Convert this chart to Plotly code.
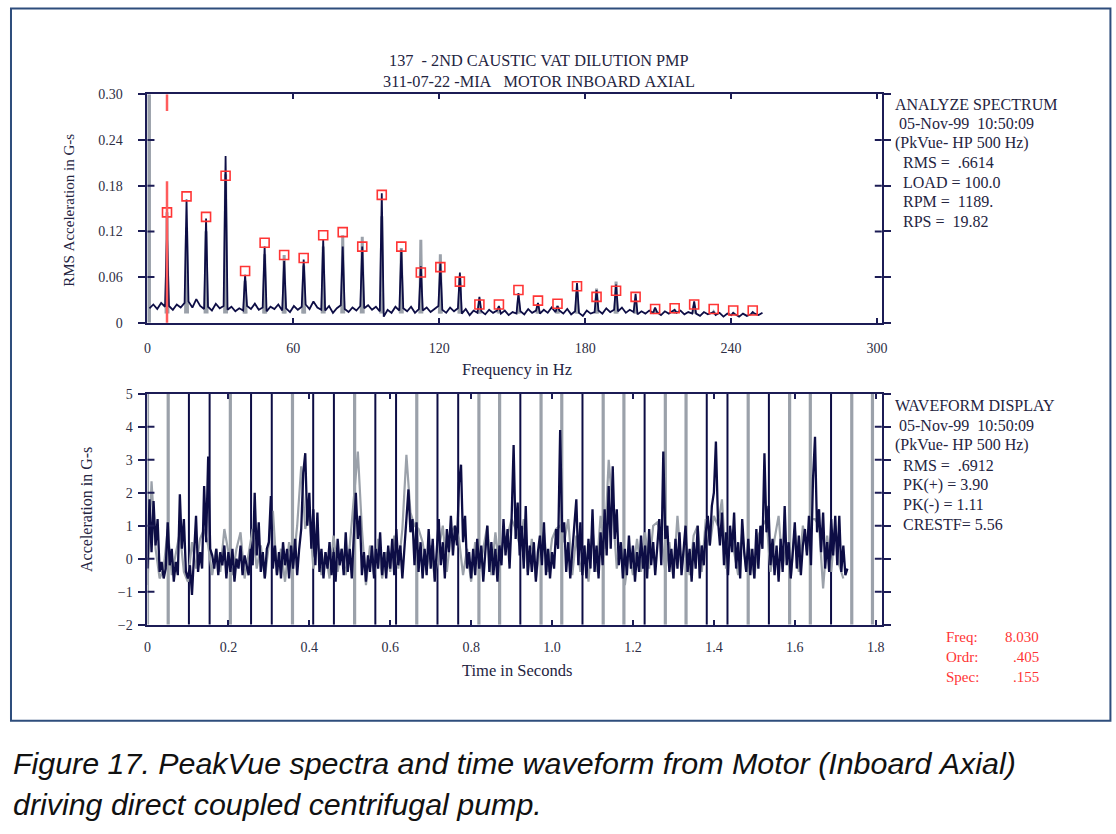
import plotly.graph_objects as go

# --- data -------------------------------------------------------------
HARM_FREQ = 8.03          # Hz, cursor frequency (Freq readout)
TACH_PERIOD = 0.0512      # s, spacing of the once-per-rev marks

# spectrum: navy (current) peak at each harmonic 1..31
NAVY_PEAKS = [0.115, 0.162, 0.137, 0.219, 0.063, 0.100, 0.081, 0.083, 0.109, 0.100,
              0.100, 0.170, 0.096, 0.074, 0.078, 0.066, 0.034, 0.022, 0.039, 0.026,
              0.022, 0.052, 0.043, 0.050, 0.038, 0.020, 0.017, 0.028, 0.014, 0.013,
              0.014]
# noise floor between harmonics (gap 0 = below 1x)
NAVY_FLOOR = [
    [0.019, 0.024, 0.018, 0.026, 0.021], [0.022, 0.017, 0.024, 0.020, 0.026],
    [0.028, 0.020, 0.031, 0.022, 0.018], [0.021, 0.016, 0.025, 0.019, 0.022],
    [0.017, 0.021, 0.015, 0.019, 0.016], [0.022, 0.018, 0.025, 0.017, 0.020],
    [0.015, 0.021, 0.018, 0.024, 0.016], [0.019, 0.014, 0.022, 0.017, 0.021],
    [0.024, 0.018, 0.028, 0.020, 0.017], [0.016, 0.022, 0.013, 0.019, 0.023],
    [0.018, 0.014, 0.020, 0.016, 0.022], [0.019, 0.023, 0.017, 0.021, 0.015],
    [0.008, 0.017, 0.013, 0.021, 0.016], [0.019, 0.015, 0.021, 0.013, 0.018],
    [0.016, 0.020, 0.014, 0.018, 0.022], [0.017, 0.013, 0.020, 0.015, 0.019],
    [0.012, 0.018, 0.010, 0.016, 0.013], [0.015, 0.011, 0.017, 0.013, 0.016],
    [0.012, 0.016, 0.010, 0.014, 0.012], [0.015, 0.011, 0.018, 0.013, 0.016],
    [0.012, 0.017, 0.013, 0.020, 0.014], [0.016, 0.012, 0.018, 0.011, 0.015],
    [0.013, 0.009, 0.016, 0.012, 0.014], [0.016, 0.012, 0.019, 0.014, 0.017],
    [0.015, 0.020, 0.013, 0.017, 0.014], [0.011, 0.015, 0.012, 0.016, 0.013],
    [0.014, 0.010, 0.015, 0.012, 0.016], [0.013, 0.016, 0.011, 0.014, 0.012],
    [0.012, 0.009, 0.014, 0.011, 0.013], [0.010, 0.013, 0.008, 0.012, 0.010],
    [0.011, 0.008, 0.012, 0.009, 0.011], [0.012, 0.010, 0.013],
]
# gray (reference) spectrum peaks
GRAY_PEAKS = [0.145, 0.125, 0.120, 0.195, 0.055, 0.090, 0.089, 0.075, 0.100, 0.115,
              0.113, 0.140, 0.098, 0.109, 0.090, 0.060, 0.025, 0.020, 0.030, 0.024,
              0.022, 0.040, 0.045, 0.054, 0.030, 0.018, 0.016, 0.022, 0.014, 0.012,
              0.012]
GRAY_BASE = 0.012
GRAY_DC = 0.30
# red peak markers
MARKER_AMP = [0.145, 0.166, 0.139, 0.193, 0.068, 0.105, 0.089, 0.085, 0.115, 0.119,
              0.100, 0.168, 0.100, 0.066, 0.073, 0.054, 0.024, 0.024, 0.043, 0.029,
              0.025, 0.048, 0.034, 0.042, 0.034, 0.018, 0.019, 0.024, 0.018, 0.016,
              0.016]

# waveform, navy trace, 0.005 s per sample
WAVE_DT = 0.005
WAVE_NAVY = [
    -0.3, 1.8, 0.2, 1.75, 0.4, 1.2, -0.4, -0.1, -0.6, -0.3,
    1.1, -0.2, 0.3, -0.7, -0.1, -0.5, 1.95, 0.3, 1.2, -0.4,
    -0.6, -0.2, -1.1, 0.1, 1.3, -0.4, 0.2, -0.3, 2.2, 0.5,
    3.1, 0.3, 0.1, -0.3, 0.3, -0.5, 0.2, -0.2, 0.4, -0.6,
    0.2, -0.4, 0.3, -0.7, 0.0, -0.3, 0.4, -0.5, 0.1, -0.2,
    -0.5, 0.3, -0.2, 2.0, 0.1, 1.1, -0.4, 0.2, -0.6, 0.3,
    0.5, 1.9, -0.3, 0.4, -0.5, 0.2, -0.6, 0.5, -0.2, 0.3,
    -0.6, 0.4, -0.3, 0.6, -0.5, 0.3, 0.9, 2.6, 3.2, 1.0,
    2.0, 0.3, 1.5, -0.2, 1.4, -0.4, 0.3, -0.6, 0.2, -0.3,
    0.5, -0.5, 0.2, -0.7, 0.6, -0.2, 0.3, -0.5, 0.8, -0.4,
    0.3, -0.6, 0.5, 2.0, 0.6, 1.3, -0.5, 0.2, -0.7, 0.1,
    -0.4, 0.4, -0.6, 0.3, -0.3, 0.8, -0.5, 0.2, -0.6, 0.4,
    -0.3, 0.6, -0.5, 0.9, -0.2, 0.4, -0.6, 0.3, 1.0, 2.1,
    0.8, 1.2, -0.2, 1.1, -0.4, 0.5, -0.6, 0.3, -0.5, 0.9,
    -0.3, 0.6, -0.7, 0.4, 1.2, -0.2, 0.5, -0.6, 0.9, 0.2,
    1.3, 0.1, 1.0, 0.4, 2.3, 2.85, 0.5, 1.3, -0.3, 0.2,
    -0.6, 0.3, -0.5, 0.6, -0.3, 0.4, -0.7, 0.2, 1.0, -0.4,
    0.5, -0.5, 0.3, -0.7, 0.4, -0.2, 1.2, 0.1, 0.9, -0.3,
    1.2, 3.45, 0.6, 1.7, 0.1, 1.0, -0.3, 1.6, -0.5, 0.4,
    -0.4, 0.5, -0.7, 0.2, 0.7, -0.2, 1.1, -0.5, 0.3, -0.6,
    0.2, -0.3, 0.9, 0.3, 3.9, 0.8, 1.1, -0.4, 0.5, -0.6,
    0.3, 0.9, 1.8, -0.2, 1.1, -0.5, 0.4, -0.6, 0.6, -0.3,
    1.5, -0.4, 0.4, -0.6, 0.8, -0.2, 1.5, 0.1, 2.2, 0.3,
    2.8, 0.6, 1.5, -0.2, 0.5, -0.6, 0.3, -0.5, 0.7, -0.3,
    0.4, -0.7, 0.2, -0.4, 0.7, -0.3, 0.4, -0.6, 0.9, -0.2,
    0.5, -0.5, 0.3, 1.2, -0.2, 3.25, 0.6, 1.0, -0.4, 0.3,
    -0.6, 0.6, -0.3, 0.8, -0.5, 0.4, 1.0, -0.4, 0.3, -0.7,
    0.5, -0.3, 1.0, -0.6, 0.4, -0.2, 0.8, 1.3, 0.4, 1.6,
    2.0, 3.55, 1.2, 0.4, 1.4, -0.2, 0.8, -0.5, 1.0, 0.2,
    1.4, -0.3, 0.5, -0.6, 1.2, 0.2, -0.4, 0.6, -0.5, 0.3,
    -0.6, 0.9, -0.3, 1.0, 0.3, 3.2, 0.8, 1.6, -0.2, 0.6,
    -0.5, 0.4, -0.7, 0.6, -0.4, 1.6, -0.2, 0.5, -0.6, 0.2,
    1.1, -0.3, 0.7, -0.5, 0.4, 0.9, 0.1, 1.3, -0.2, 2.4,
    3.7, 0.8, 1.5, 0.2, 1.4, -0.3, 0.5, -0.4, 1.2, 0.1,
    1.3, -0.2, 1.3, -0.4, 0.4, -0.5, -0.3,
]
# waveform, gray trace, 0.01 s per sample
GRAY_DT = 0.01
WAVE_GRAY = [
    -0.8, 2.35, 0.3, -0.6, -0.3, 0.9, -0.5, 0.2, 0.8, -0.4,
    -0.7, 0.5, -0.3, 0.6, 0.9, 0.4, -0.5, 0.3, -0.4, 0.9,
    0.2, -0.5, 0.3, 0.8, -0.6, 0.2, 0.9, -0.3, 0.4, -0.6,
    0.5, 1.45, -0.5, 0.3, -0.7, 0.5, -0.2, 1.0, 2.8, 0.9,
    1.4, -0.3, 0.6, -0.5, 0.2, -0.6, 0.7, -0.4, 0.3, -0.5,
    0.4, 1.8, 3.25, 0.9, -0.8, 0.4, -0.5, 0.6, -0.6, 0.2,
    -0.4, 0.7, -0.3, 0.9, 3.15, 1.4, 1.0, 0.9, 0.5, -0.3,
    0.4, -0.6, 0.3, 1.0, -0.4, 0.8, 1.0, 0.6, -0.5, 0.3,
    -0.7, 0.5, -0.4, 0.3, 1.0, -0.5, 0.8, -0.3, 0.6, 0.7,
    1.2, 0.9, 0.4, 1.2, -0.4, 0.6, -0.6, 0.3, 0.8, -0.4,
    0.6, 0.9, 1.0, 0.5, 1.2, -0.5, 0.7, -0.4, 0.4, -0.7,
    0.9, -0.4, 1.3, 0.3, 3.0, 1.5, -0.3, 0.5, -0.8, 0.2,
    -0.5, 0.6, -0.4, 0.8, -0.3, 1.0, 1.1, 0.7, -0.4, 0.5,
    -0.6, 1.3, -0.3, 0.6, -0.5, 0.7, 1.0, -0.4, 1.2, 0.4,
    1.3, 1.0, 1.8, -0.3, 0.9, 0.2, -0.5, 0.8, -0.4, 0.3,
    -0.6, 0.7, 1.0, 1.2, -0.4, 0.6, 1.3, -0.3, 0.5, -0.6,
    0.9, -0.4, 1.0, 0.2, 1.2, 1.2, 1.0, -0.9, 0.7, -0.4,
    1.0, -0.2, -0.6,
]
# colour of each once-per-rev mark (g = gray trace, n = navy trace)
TACH_COLORS = "ggnngnngnngnngnnggnggnggnggnngnggngg"

FREQ_TICKS = [0, 60, 120, 180, 240, 300]
AMP_TICKS = [0, 0.06, 0.12, 0.18, 0.24, 0.30]
AMP_LABELS = ["0", "0.06", "0.12", "0.18", "0.24", "0.30"]
TIME_TICKS = [0, 0.2, 0.4, 0.6, 0.8, 1.0, 1.2, 1.4, 1.6, 1.8]
TIME_LABELS = ["0", "0.2", "0.4", "0.6", "0.8", "1.0", "1.2", "1.4", "1.6", "1.8"]
ACC_TICKS = [-2, -1, 0, 1, 2, 3, 4, 5]

SPEC_INFO = ["ANALYZE SPECTRUM", " 05-Nov-99  10:50:09", "(PkVue- HP 500 Hz)",
             "  RMS =  .6614", "  LOAD = 100.0", "  RPM =  1189.", "  RPS =  19.82"]
WAVE_INFO = ["WAVEFORM DISPLAY", " 05-Nov-99  10:50:09", "(PkVue- HP 500 Hz)",
             "  RMS =  .6912", "  PK(+) = 3.90", "  PK(-) = 1.11", "  CRESTF= 5.56"]
CURSOR_INFO = [("Freq:", "8.030"), ("Ordr:", ".405"), ("Spec:", ".155")]

# --- styling ----------------------------------------------------------
W, H = 1116, 834
NAVY = "#0d0d45"
GRAY = "#9ba1aa"
RED = "#ff3535"
AXIS = "#1c1c55"
TXT = "#24243f"
SERIF = "Liberation Serif, Times New Roman, serif"


# positions below are given in reference pixels; the page is photographed
# slightly shrunk, so map them back a little
def px(x):
    return (x / 0.9947 - 3) / W


def py(y):
    return 1 - (y / 0.9847 - 6.5) / H


def nb(s):
    return s.replace(" ", "\u00a0")


# --- build spectrum lines ---------------------------------------------
spec_x, spec_y = [], []
for k, gap in enumerate(NAVY_FLOOR):
    if k > 0:
        spec_x.append(k * HARM_FREQ)
        spec_y.append(NAVY_PEAKS[k - 1])
    for j, v in enumerate(gap):
        spec_x.append((k + 0.1 + 0.2 * j) * HARM_FREQ)
        spec_y.append(v)

gray_x, gray_y = [], []
for k, pk in enumerate(GRAY_PEAKS, start=1):
    f = k * HARM_FREQ
    gray_x += [f - 0.4, f, f + 0.4, None]
    gray_y += [GRAY_BASE, pk, GRAY_BASE, None]

orders = [k * HARM_FREQ for k in range(1, len(MARKER_AMP) + 1)]

fig = go.Figure()
fig.add_trace(go.Scatter(x=[0.4, 0.4], y=[0, GRAY_DC], mode="lines",
                         line=dict(color=GRAY, width=5), xaxis="x", yaxis="y"))
fig.add_trace(go.Scatter(x=gray_x, y=gray_y, mode="lines",
                         line=dict(color=GRAY, width=3), xaxis="x", yaxis="y"))
fig.add_trace(go.Scatter(x=spec_x, y=spec_y, mode="lines",
                         line=dict(color=NAVY, width=1.8), xaxis="x", yaxis="y"))
fig.add_trace(go.Scatter(x=orders, y=MARKER_AMP, mode="markers", cliponaxis=False,
                         marker=dict(symbol="square-open", size=9, color=RED,
                                     line=dict(width=1.6, color=RED)),
                         xaxis="x", yaxis="y"))

# waveform
fig.add_trace(go.Scatter(x=[i * GRAY_DT for i in range(len(WAVE_GRAY))], y=WAVE_GRAY,
                         mode="lines", line=dict(color=GRAY, width=2.2),
                         xaxis="x2", yaxis="y2"))
fig.add_trace(go.Scatter(x=[i * WAVE_DT for i in range(len(WAVE_NAVY))], y=WAVE_NAVY,
                         mode="lines", line=dict(color=NAVY, width=2.3),
                         xaxis="x2", yaxis="y2"))

shapes = []
# once-per-rev marks
for k, c in enumerate(TACH_COLORS):
    t = k * TACH_PERIOD
    shapes.append(dict(type="line", xref="x2", yref="y2 domain", x0=t, x1=t, y0=0, y1=1,
                       layer="below",
                       line=dict(color=GRAY if c == "g" else NAVY,
                                 width=3.2 if c == "g" else 2)))
# red cursor
shapes.append(dict(type="line", xref="x", yref="y", x0=HARM_FREQ, x1=HARM_FREQ,
                   y0=0.30, y1=0.278, line=dict(color="#ff5c5c", width=2.5)))
shapes.append(dict(type="line", xref="x", yref="y", x0=HARM_FREQ, x1=HARM_FREQ,
                   y0=0.186, y1=-0.029, line=dict(color="#ff5c5c", width=2.5)))
# inner half of the crossing y ticks
for yref, xref, vals in (("y", "x domain", AMP_TICKS[1:-1]),
                         ("y2", "x2 domain", ACC_TICKS[1:-1])):
    for v in vals:
        for a, b in ((0, 0.0095), (0.9905, 1)):
            shapes.append(dict(type="line", xref=xref, yref=yref, x0=a, x1=b, y0=v, y1=v,
                               line=dict(color=AXIS, width=2)))
# outer frame
shapes.append(dict(type="rect", xref="paper", yref="paper", x0=px(10), x1=px(1113.5),
                   y0=py(722), y1=py(8), line=dict(color="#2e4d7c", width=2)))

ann = []


def label(x, y, text, size=15.5, color=TXT, anchor="left", font=SERIF, **kw):
    ann.append(dict(xref="paper", yref="paper", x=px(x), y=py(y), text=nb(text),
                    showarrow=False, xanchor=anchor, yanchor="middle",
                    font=dict(family=font, size=size, color=color), **kw))


label(540, 60, "137  - 2ND CAUSTIC VAT DILUTION PMP", size=16.3, anchor="center")
label(540, 81, "311-07-22 -MIA   MOTOR INBOARD AXIAL", size=16.3, anchor="center")
label(518, 370, "Frequency in Hz", size=16.5, anchor="center")
label(518, 672, "Time in Seconds", size=16.5, anchor="center")
label(68, 210, "RMS Acceleration in G-s", size=15, anchor="center", textangle=-90)
label(86, 510, "Acceleration in G-s", size=16, anchor="center", textangle=-90)
for i, s in enumerate(SPEC_INFO):
    label(895, 104 + i * 19.5, s, size=16)
for i, s in enumerate(WAVE_INFO):
    label(895, 406 + i * 19.9, s, size=16)
for i, (a, b) in enumerate(CURSOR_INFO):
    label(946, 638 + i * 20, a, size=15, color=RED)
    label(1044, 638 + i * 20, b, size=15, color=RED, anchor="right")
cap_font = "Liberation Sans, Arial, sans-serif"
label(10, 764, "<i>Figure 17. PeakVue spectra and time waveform from Motor (Inboard Axial)</i>",
      size=30.4, color="#111111", font=cap_font)
label(10, 806, "<i>driving direct coupled centrifugal pump.</i>",
      size=30.4, color="#111111", font=cap_font)

tickfont = dict(family=SERIF, size=14, color="#2e2e44")
xcommon = dict(showline=True, linecolor=AXIS, linewidth=2, mirror="ticks", ticks="inside",
               ticklen=5, tickcolor=AXIS, tickwidth=2, showgrid=False, zeroline=False,
               tickfont=tickfont, domain=[px(147), px(884)])
ycommon = dict(showline=True, linecolor=AXIS, linewidth=2, mirror="ticks", ticks="outside",
               ticklen=7, tickcolor=AXIS, tickwidth=2, showgrid=False, zeroline=False,
               tickfont=tickfont)

fig.update_layout(
    width=W, height=H, margin=dict(l=0, r=0, t=0, b=0),
    paper_bgcolor="white", plot_bgcolor="white", showlegend=False,
    xaxis=dict(xcommon, range=[0, 302], tickvals=FREQ_TICKS, anchor="y",
               ticklabelstandoff=11),
    yaxis=dict(ycommon, range=[0, 0.30], tickvals=AMP_TICKS, ticktext=AMP_LABELS,
               domain=[py(323), py(94)], anchor="x", ticklabelstandoff=13),
    xaxis2=dict(xcommon, range=[0, 1.815], tickvals=TIME_TICKS, ticktext=TIME_LABELS,
                anchor="y2", ticklabelstandoff=9),
    yaxis2=dict(ycommon, range=[-2, 5], tickvals=ACC_TICKS,
                domain=[py(625.7), py(394.3)], anchor="x2", ticklabelstandoff=3),
    shapes=shapes, annotations=ann,
)

fig.write_html("out.html", config={"displayModeBar": False},
               post_script="document.body.style.margin='0';")
